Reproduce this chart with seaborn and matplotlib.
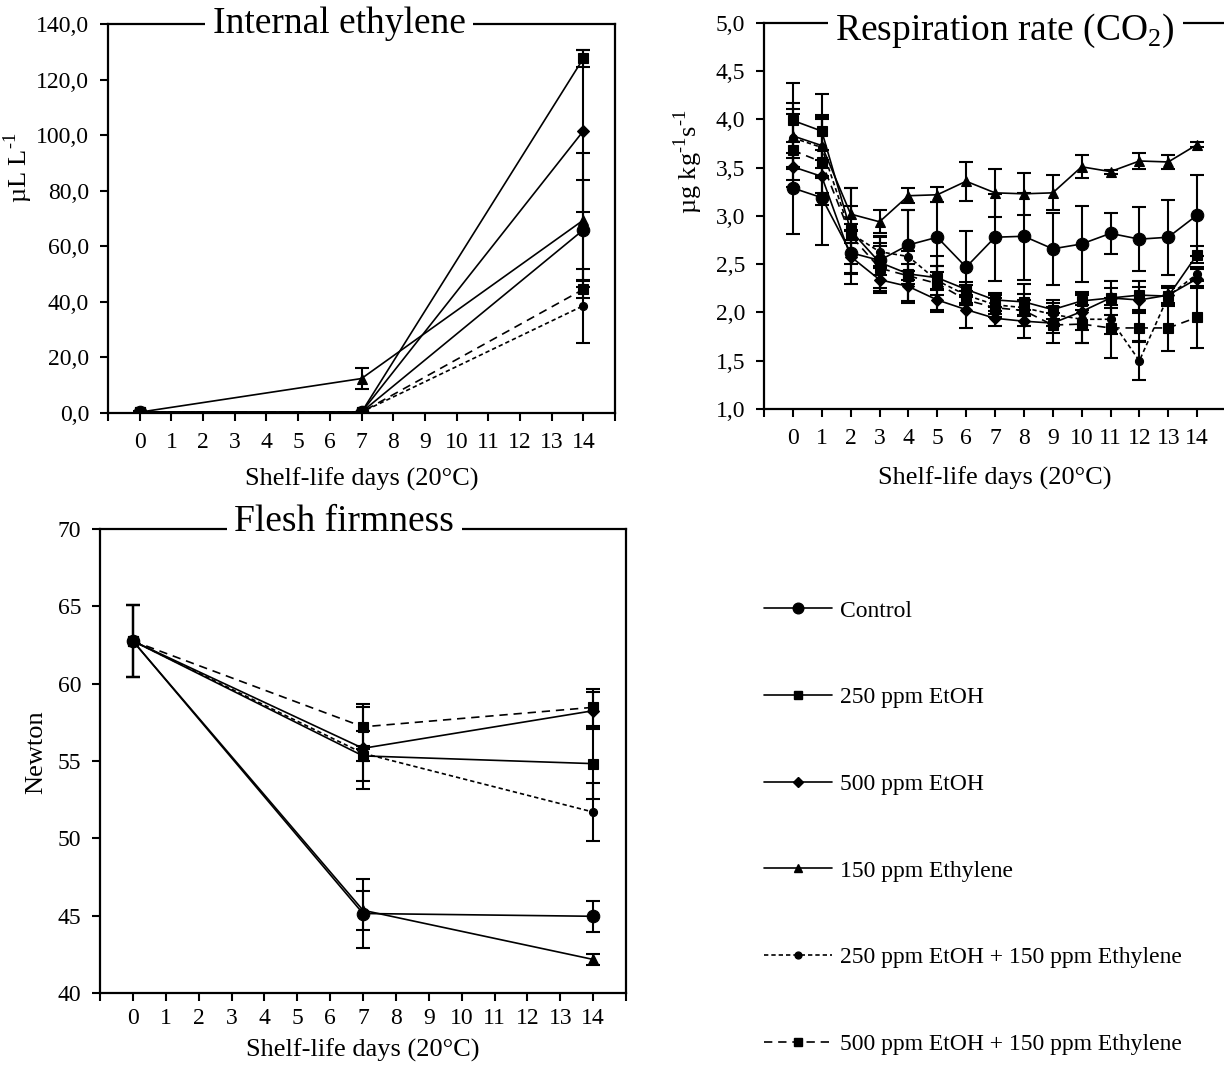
import numpy as np
import pandas as pd
import matplotlib
matplotlib.use("Agg")
import matplotlib.pyplot as plt
from matplotlib.lines import Line2D
import seaborn as sns

# treatments and their plot styles (all black)
treatments = ['Control', '250 ppm EtOH', '500 ppm EtOH', '150 ppm Ethylene',
              '250 ppm EtOH + 150 ppm Ethylene', '500 ppm EtOH + 150 ppm Ethylene']

# internal ethylene (uL L-1), days 0, 7, 14
ethylene_days = [0, 7, 14]
ethylene_mean = [[0.3, 0.3, 65.9],
                 [0.3, 0.3, 127.6],
                 [0.3, 0.3, 101.5],
                 [0.3, 12.4, 69.4],
                 [0.3, 0.3, 38.6],
                 [0.3, 0.3, 44.5]]
ethylene_err = [[0.3, 0.2, 18.0],
                [0.2, 0.2, 3.0],
                [0.2, 0.2, 29.0],
                [0.2, 3.9, 24.0],
                [0.2, 0.2, 13.3],
                [0.2, 0.2, 3.0]]

# respiration rate (ug kg-1 s-1), days 0..14
resp_days = list(range(15))
resp_mean = [[3.29, 3.19, 2.62, 2.54, 2.70, 2.78, 2.47, 2.78, 2.79, 2.66, 2.71, 2.82, 2.76, 2.78, 3.01],
             [3.99, 3.88, 2.85, 2.52, 2.40, 2.36, 2.24, 2.13, 2.11, 2.03, 2.12, 2.15, 2.18, 2.17, 2.60],
             [3.51, 3.41, 2.58, 2.34, 2.27, 2.13, 2.03, 1.94, 1.91, 1.89, 2.01, 2.15, 2.13, 2.18, 2.35],
             [3.83, 3.73, 3.02, 2.94, 3.21, 3.22, 3.36, 3.24, 3.23, 3.24, 3.51, 3.46, 3.57, 3.56, 3.74],
             [3.81, 3.71, 2.82, 2.63, 2.58, 2.33, 2.18, 2.08, 2.05, 1.98, 1.93, 1.93, 1.50, 2.17, 2.40],
             [3.68, 3.56, 2.80, 2.46, 2.38, 2.30, 2.13, 2.05, 2.02, 1.87, 1.88, 1.84, 1.84, 1.84, 1.95]]
resp_err = [[0.48, 0.49, 0.22, 0.15, 0.36, 0.36, 0.37, 0.45, 0.45, 0.37, 0.39, 0.21, 0.33, 0.39, 0.42],
            [0.39, 0.38, 0.44, 0.27, 0.10, 0.12, 0.08, 0.07, 0.08, 0.10, 0.09, 0.18, 0.15, 0.10, 0.09],
            [0.14, 0.17, 0.28, 0.12, 0.16, 0.10, 0.19, 0.08, 0.05, 0.10, 0.19, 0.10, 0.13, 0.08, 0.10],
            [0.34, 0.32, 0.27, 0.12, 0.08, 0.08, 0.20, 0.25, 0.22, 0.18, 0.12, 0.02, 0.08, 0.07, 0.03],
            [0.30, 0.32, 0.10, 0.15, 0.48, 0.15, 0.10, 0.10, 0.08, 0.12, 0.25, 0.15, 0.20, 0.08, 0.07],
            [0.38, 0.45, 0.30, 0.26, 0.26, 0.29, 0.05, 0.10, 0.28, 0.19, 0.20, 0.31, 0.15, 0.24, 0.32]]

# flesh firmness (N), days 0, 7, 14
firm_days = [0, 7, 14]
firm_mean = [[62.76, 45.14, 44.96],
             [62.76, 55.33, 54.83],
             [62.76, 55.82, 58.25],
             [62.76, 45.35, 42.17],
             [62.76, 55.50, 51.70],
             [62.76, 57.21, 58.47]]
firm_err = [[2.3, 2.2, 1.0],
            [2.3, 1.6, 2.3],
            [2.3, 2.65, 1.2],
            [2.3, 1.25, 0.35],
            [2.3, 0.5, 1.9],
            [2.3, 1.45, 1.2]]

ethylene_ticks = [0, 20, 40, 60, 80, 100, 120, 140]
ethylene_ticklabels = ['0,0', '20,0', '40,0', '60,0', '80,0', '100,0', '120,0', '140,0']
resp_ticks = [1.0, 1.5, 2.0, 2.5, 3.0, 3.5, 4.0, 4.5, 5.0]
resp_ticklabels = ['1,0', '1,5', '2,0', '2,5', '3,0', '3,5', '4,0', '4,5', '5,0']
firm_ticks = [40, 45, 50, 55, 60, 65, 70]
firm_ticklabels = ['40', '45', '50', '55', '60', '65', '70']
day_ticklabels = [''] + [str(d) for d in range(15)] + ['']

markers = ['o', 's', 'D', '^', 'o', 's']
msizes = [9, 7, 6.3, 7, 5.8, 6.5]
styles = ['-', '-', '-', '-', (0, (2.6, 1.8)), (0, (5, 3.5))]

sns.set_theme(style='ticks')
plt.rcParams['font.family'] = ['Liberation Serif', 'DejaVu Serif']
plt.rcParams['mathtext.fontset'] = 'custom'
plt.rcParams['mathtext.rm'] = 'Liberation Serif'
plt.rcParams['axes.edgecolor'] = 'black'
plt.rcParams['text.color'] = 'black'
plt.rcParams['axes.labelcolor'] = 'black'

W, H = 1224, 1069
fig = plt.figure(figsize=(W / 100, H / 100), dpi=100)


def px_axes(left, right, top, bottom):
    return fig.add_axes([left / W, 1 - bottom / H, (right - left) / W, (bottom - top) / H])


def draw_panel(ax, days, means, errs):
    for i, name in enumerate(treatments):
        df = pd.DataFrame({'day': days, 'value': means[i]})
        sns.lineplot(data=df, x='day', y='value', ax=ax, color='black',
                     marker=markers[i], markersize=msizes[i], markeredgecolor='black',
                     markeredgewidth=0.8, linewidth=1.2, linestyle=styles[i],
                     errorbar=None, sort=False, legend=False)
        ax.errorbar(days, means[i], yerr=errs[i], fmt='none', ecolor='black',
                    elinewidth=1.5, capsize=5, capthick=1.5, zorder=3)


def style_axis(ax, ticks, ticklabels, title, tx, toff, xlabel_text, xpad, xlabpad,
               ylabel_text, ylab_pos):
    ax.set_xlim(-1, 15)
    ax.set_xticks(range(-1, 16))
    ax.set_xticklabels(day_ticklabels)
    ax.set_ylim(ticks[0], ticks[-1])
    ax.set_yticks(ticks)
    ax.set_yticklabels(ticklabels)
    ax.tick_params(direction='out', length=5.5, width=1.5, labelsize=17, colors='black')
    ax.tick_params(axis='x', pad=xpad)
    ax.tick_params(axis='y', pad=8)
    for s in ax.spines.values():
        s.set_visible(True)
        s.set_linewidth(1.6)
        s.set_color('black')
    ax.set_facecolor('white')
    ax.grid(False)
    ax.set_xlabel(xlabel_text, fontsize=19, labelpad=xlabpad)
    ax.set_ylabel(ylabel_text, fontsize=19)
    ax.yaxis.set_label_coords(*ylab_pos)
    ax.annotate(title, xy=(tx, 1.0), xycoords='axes fraction', xytext=(0, toff),
                textcoords='offset points', ha='center', va='baseline', fontsize=27,
                bbox=dict(boxstyle='square,pad=0.2', fc='white', ec='none'),
                zorder=10, annotation_clip=False)


xlab = 'Shelf-life days (20°C)'

ax1 = px_axes(108, 615, 24, 413)
draw_panel(ax1, ethylene_days, ethylene_mean, ethylene_err)
style_axis(ax1, ethylene_ticks, ethylene_ticklabels, 'Internal ethylene', 0.456, -6.5,
           xlab, 8, 10.5, 'µL L$^{\\mathregular{‐1}}$', (-0.143, 0.63))

ax2 = px_axes(764, 1226, 23, 409)
draw_panel(ax2, resp_days, resp_mean, resp_err)
style_axis(ax2, resp_ticks, resp_ticklabels, 'Respiration rate (CO$_{\\mathregular{2}}$)', 0.522, -12,
           xlab, 8, 12.5, 'µg kg$^{\\mathregular{‐1}}$s$^{\\mathregular{‐1}}$', (-0.128, 0.64))

ax3 = px_axes(100, 626, 529, 993)
draw_panel(ax3, firm_days, firm_mean, firm_err)
style_axis(ax3, firm_ticks, firm_ticklabels, 'Flesh firmness', 0.464, -1.5,
           xlab, 5, 7, 'Newton', (-0.1, 0.52))

handles = [Line2D([], [], color='black', lw=1.2, linestyle=styles[i], marker=markers[i],
                  markersize=msizes[i] * 0.85, markeredgecolor='black')
           for i in range(len(treatments))]
fig.legend(handles, treatments, loc='upper left', bbox_to_anchor=(764 / W, 1 - 600 / H),
           frameon=False, fontsize=17, labelspacing=2.76, handlelength=2.9,
           handletextpad=0.3, borderpad=0, borderaxespad=0)

fig.savefig('out.png', dpi=100)
